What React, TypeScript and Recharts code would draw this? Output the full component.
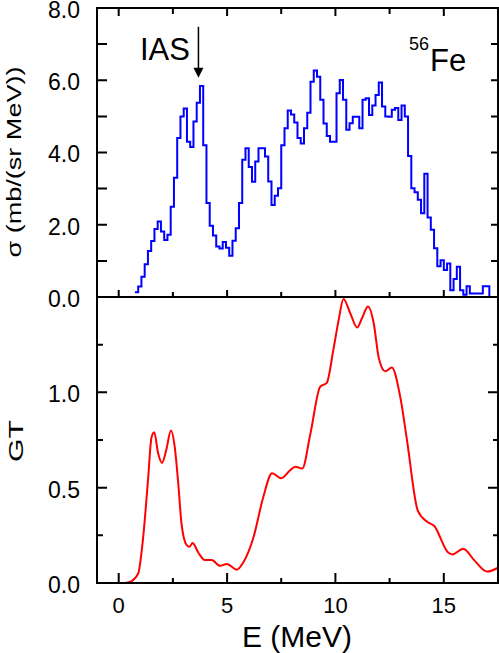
import React from "react";
import { LineChart, Line, XAxis, YAxis, ReferenceLine } from "recharts";

const FONT = '"Liberation Sans", Arial, Helvetica, sans-serif';

// upper panel: cross section, histogram with 0.15 MeV bins from 0.75 MeV
const sigmaBinStart = 0.75;
const sigmaBinWidth = 0.15;
const sigmaValues = [
  0.13, 0.29, 0.56, 0.91, 1.27, 1.55, 1.88, 2.09, 1.81, 1.58,
  1.72, 2.5, 3.3, 4.4, 5.0, 5.22, 4.3, 4.15, 4.86, 5.38,
  5.84, 4.2, 2.6, 1.97, 1.7, 1.4, 1.34, 1.52, 1.36, 1.14,
  1.56, 1.9, 2.6, 3.8, 4.12, 3.6, 3.19, 3.75, 4.12, 4.12,
  3.89, 3.2, 2.55, 2.8, 3.01, 4.2, 4.67, 5.16, 5.05, 4.83,
  4.4, 4.25, 4.67, 5.1, 5.96, 6.27, 6.1, 5.46, 4.8, 4.46,
  4.3, 4.3, 5.64, 6.01, 5.46, 4.63, 4.81, 4.99, 4.99, 4.67,
  5.46, 5.5, 5.04, 5.3, 5.59, 5.94, 5.27, 5.0, 4.99, 5.18,
  5.23, 4.9, 5.3, 5.0, 3.9, 3.01, 2.9, 2.69, 2.32, 3.41,
  2.2, 1.86, 1.35, 0.85, 1.02, 0.75, 0.93, 0.19, 0.5, 0.84,
  0.19, 0.06, 0.3, 0.1, 0.1, 0.1, 0.1, 0.3, 0.3,
];

// lower panel: GT strength
const gtEnergy = [
  0.3, 0.6, 0.9, 1.13, 1.36, 1.51, 1.64, 1.82, 2.0, 2.2,
  2.41, 2.59, 2.75, 2.9, 3.13, 3.27, 3.41, 3.67, 3.98, 4.29,
  4.68, 4.99, 5.45, 5.76, 6.22, 6.67, 7.08, 7.5, 7.9, 8.15,
  8.47, 8.84, 9.3, 9.6, 9.9, 10.15, 10.37, 10.7, 11.0, 11.23,
  11.5, 11.77, 12.0, 12.3, 12.6, 13.0, 13.3, 13.8, 14.25, 14.55,
  15.2, 15.4, 15.9, 16.4, 17.0, 17.5,
];
const gtStrength = [
  0, 0.01, 0.05, 0.24, 0.55, 0.76, 0.79, 0.68, 0.63, 0.7,
  0.8, 0.71, 0.52, 0.31, 0.2, 0.19, 0.21, 0.16, 0.12, 0.12,
  0.09, 0.1, 0.07, 0.11, 0.24, 0.45, 0.576, 0.55, 0.59, 0.61,
  0.6, 0.78, 1.03, 1.05, 1.22, 1.38, 1.49, 1.41, 1.34, 1.39,
  1.45, 1.36, 1.18, 1.11, 1.13, 0.97, 0.75, 0.38, 0.32, 0.3,
  0.16, 0.15, 0.18, 0.12, 0.06, 0.08,
];

const xDomain: [number, number] = [-1, 17.5];
const xTicks = [0, 2.5, 5, 7.5, 10, 12.5, 15];
const xMajor = [0, 5, 10, 15];
const sigmaDomain: [number, number] = [0, 8];
const sigmaTicks = [0, 1, 2, 3, 4, 5, 6, 7, 8];
const sigmaMajor = [0, 2, 4, 6, 8];
const gtDomain: [number, number] = [0, 1.5];
const gtTicks = [0, 0.25, 0.5, 0.75, 1, 1.25, 1.5];
const gtMajor = [0, 0.5, 1, 1.5];
const gtLabelled = [0, 0.5, 1];

// IAS arrow (energy, from -> to in sigma units)
const iasEnergy = 3.68;
const iasArrowFrom = 7.48;
const iasArrowTo = 6.07;

const sigmaData = sigmaValues.map((s, i) => ({ e: +(sigmaBinStart + i * sigmaBinWidth).toFixed(3), s }));
sigmaData.push({ e: +(sigmaBinStart + sigmaValues.length * sigmaBinWidth).toFixed(3), s: 0 });
const gtData = gtEnergy.map((e, i) => ({ e, gt: gtStrength[i] }));

// page layout of the two plot boxes (the chart margins below are derived from these)
const PAGE_W = 499;
const PLOT_L = 97;
const PLOT_R = 498;
const TOP_T = 8;
const MID = 297;
const BOT_B = 583;
const TOP_WRAP = -10;
const TOP_H = 330;
const BOT_WRAP = 290;
const BOT_H = 363;

const INK = "#000";
const frame = { stroke: INK, strokeWidth: 2 };

// same linear maps as the chart axes, for the frame's inward tick marks
const px = (e: number) => PLOT_L + ((e - xDomain[0]) / (xDomain[1] - xDomain[0])) * (PLOT_R - PLOT_L);
const pyTop = (v: number) => MID - ((v - sigmaDomain[0]) / (sigmaDomain[1] - sigmaDomain[0])) * (MID - TOP_T);
const pyBot = (v: number) => BOT_B - ((v - gtDomain[0]) / (gtDomain[1] - gtDomain[0])) * (BOT_B - MID);

// axis labels only
function tickLabel(side: "bottom" | "left", labels: number[], fmt: (v: number) => string) {
  return (p: any) => {
    const v = Number(p.payload.value);
    if (!labels.includes(v)) return <g />;
    return side === "bottom" ? (
      <text x={p.x} y={p.y + 30} textAnchor="middle" fontFamily={FONT} fontSize={22} fill={INK}>{fmt(v)}</text>
    ) : (
      <text x={p.x - 17} y={p.y} dy="0.43em" textAnchor="end" fontFamily={FONT} fontSize={23} fill={INK}>{fmt(v)}</text>
    );
  };
}

function IasArrow(p: any) {
  const { x1, y1, x2, y2 } = p;
  return (
    <g>
      <line x1={x1} y1={y1} x2={x2} y2={y2 - 8} stroke={INK} strokeWidth={1.5} />
      <polygon points={`${x2 - 5},${y2 - 10} ${x2 + 5},${y2 - 10} ${x2},${y2}`} fill={INK} />
    </g>
  );
}

const oneDec = (v: number) => v.toFixed(1);

// tick path: short inward strokes along every side of both panels
function tickPath() {
  const d: string[] = [];
  const seg = (x1: number, y1: number, x2: number, y2: number) =>
    d.push(`M${x1.toFixed(1)},${y1.toFixed(1)}L${x2.toFixed(1)},${y2.toFixed(1)}`);
  xTicks.forEach((t) => {
    const major = xMajor.includes(t);
    const x = px(t);
    seg(x, TOP_T, x, TOP_T + (major ? 8 : 6));
    seg(x, MID, x, MID - (major ? 7 : 5));
    seg(x, BOT_B, x, BOT_B - (major ? 10 : 5));
  });
  sigmaTicks.forEach((t) => {
    const y = pyTop(t);
    seg(PLOT_L, y, PLOT_L + 10, y);
    seg(PLOT_R, y, PLOT_R - 7, y);
  });
  gtTicks.forEach((t) => {
    const major = gtMajor.includes(t);
    const y = pyBot(t);
    seg(PLOT_L, y, PLOT_L + (major ? 10 : 6), y);
    seg(PLOT_R, y, PLOT_R - (major ? 10 : 5), y);
  });
  return d.join("");
}

export default function App() {
  return (
    <div style={{ position: "absolute", left: 0, top: 0, width: PAGE_W, height: 653, background: "#fff", overflow: "hidden" }}>
      <div style={{ position: "absolute", left: 0, top: TOP_WRAP }}>
        <LineChart width={PAGE_W} height={TOP_H} data={sigmaData}
          margin={{ top: TOP_T - TOP_WRAP, right: PAGE_W - PLOT_R, bottom: TOP_H - (MID - TOP_WRAP) - 3, left: 0 }}>
          <XAxis type="number" dataKey="e" domain={xDomain} ticks={xTicks} interval={0}
            height={3} axisLine={frame} tickLine={false} tickSize={0} tickMargin={0}
            tick={tickLabel("bottom", [], oneDec)} />
          <YAxis type="number" domain={sigmaDomain} ticks={sigmaTicks} interval={0}
            width={PLOT_L} axisLine={frame} tickLine={false} tickSize={0} tickMargin={0}
            tick={tickLabel("left", sigmaMajor, oneDec)} />
          <Line type="stepAfter" dataKey="s" stroke="#0000ff" strokeWidth={2}
            dot={false} activeDot={false} isAnimationActive={false} />
          <ReferenceLine segment={[{ x: iasEnergy, y: iasArrowFrom }, { x: iasEnergy, y: iasArrowTo }]}
            shape={IasArrow} ifOverflow="visible" />
        </LineChart>
      </div>
      <div style={{ position: "absolute", left: 0, top: BOT_WRAP }}>
        <LineChart width={PAGE_W} height={BOT_H} data={gtData}
          margin={{ top: MID - BOT_WRAP, right: PAGE_W - PLOT_R, bottom: 0, left: 0 }}>
          <XAxis type="number" dataKey="e" domain={xDomain} ticks={xTicks} interval={0}
            height={BOT_WRAP + BOT_H - BOT_B} axisLine={frame} tickLine={false} tickSize={0} tickMargin={0}
            tick={tickLabel("bottom", xMajor, String)} />
          <YAxis type="number" domain={gtDomain} ticks={gtTicks} interval={0}
            width={PLOT_L} axisLine={frame} tickLine={false} tickSize={0} tickMargin={0}
            tick={tickLabel("left", gtLabelled, oneDec)} />
          <Line type="monotone" dataKey="gt" stroke="#ff0000" strokeWidth={2}
            dot={false} activeDot={false} isAnimationActive={false} />
        </LineChart>
      </div>
      <svg width={PAGE_W} height={653} style={{ position: "absolute", left: 0, top: 0, pointerEvents: "none" }}>
        <rect x={PLOT_L} y={TOP_T} width={PLOT_R - PLOT_L} height={BOT_B - TOP_T}
          fill="none" stroke={INK} strokeWidth={2} />
        <path d={tickPath()} fill="none" stroke={INK} strokeWidth={2} />
        <g fontFamily={FONT} fill={INK}>
          <text transform="translate(21,162) rotate(-90)" textAnchor="middle" fontSize={20}
            textLength={191} lengthAdjust="spacingAndGlyphs">σ (mb/(sr MeV))</text>
          <text transform="translate(23,441) rotate(-90)" textAnchor="middle" fontSize={21}
            textLength={42} lengthAdjust="spacingAndGlyphs">GT</text>
          <text x={297} y={647} textAnchor="middle" fontSize={30}>E (MeV)</text>
          <text x={140} y={60} fontSize={31}>IAS</text>
          <text x={409} y={50} fontSize={18}>56</text>
          <text x={430} y={71} fontSize={31}>Fe</text>
        </g>
      </svg>
    </div>
  );
}
